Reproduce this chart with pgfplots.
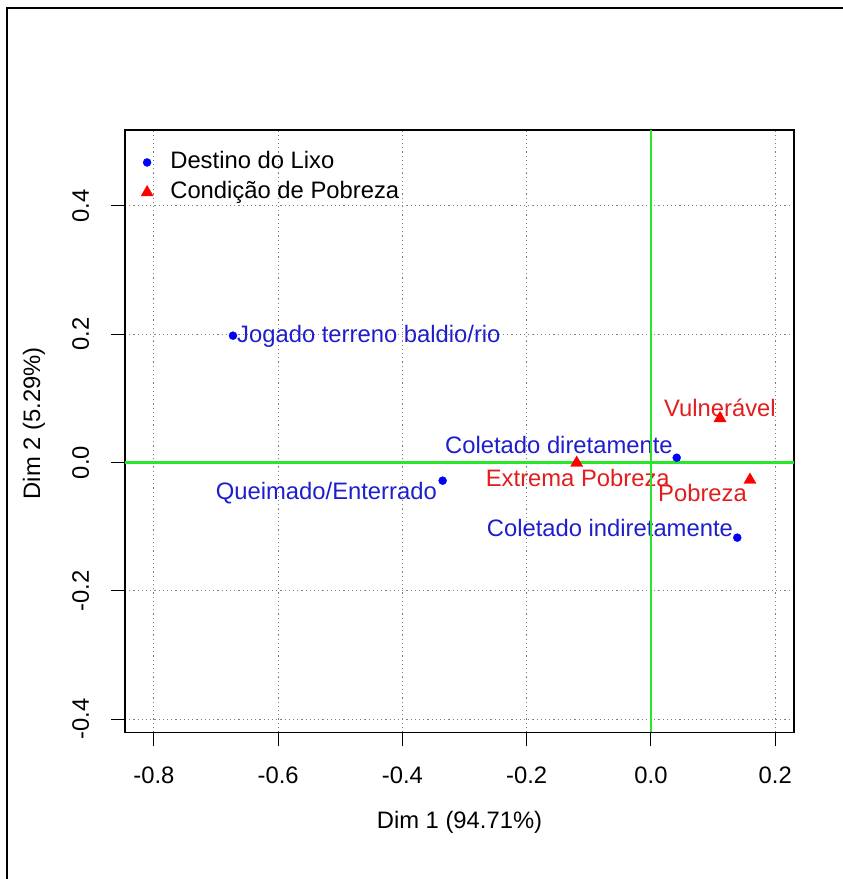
\documentclass[border=0pt]{standalone}
\usepackage{pgfplots}
\pgfplotsset{compat=1.18}
\usepackage{fontspec}
\setmainfont{Liberation Sans}
\definecolor{rblue}{RGB}{0,0,255}
\definecolor{tblue}{RGB}{30,30,205}
\definecolor{rred}{RGB}{255,0,0}
\definecolor{tred}{RGB}{225,30,30}
\definecolor{rgreen}{RGB}{40,230,40}
\begin{document}
\begin{tikzpicture}[font=\fontsize{23.8bp}{28bp}\selectfont]
\useasboundingbox (0,0) rectangle (843bp,879bp);
\draw[line width=2bp] (7bp,0) -- (7bp,871bp) -- (843bp,871bp);
\begin{axis}[
  at={(125bp,146.7bp)}, anchor=south west,
  scale only axis, width=669bp, height=602.3bp,
  xmin=-0.8466, xmax=0.2302, ymin=-0.4204, ymax=0.5184,
  xtick={-0.8,-0.6,-0.4,-0.2,0,0.2},
  xticklabels={-0.8,-0.6,-0.4,-0.2,0.0,0.2},
  ytick={-0.4,-0.2,0,0.2,0.4},
  yticklabels={-0.4,-0.2,0.0,0.2,0.4},
  xtick pos=left, ytick pos=left,
  tick align=outside, major tick length=14bp,
  tick style={black, line width=1bp},
  axis line style={black, line width=1.2bp},
  grid=major,
  major grid style={gray, line width=1bp, dash pattern=on 1.2bp off 3bp},
  xticklabel style={anchor=north, inner sep=0pt, text height=17bp, text depth=0pt},
  yticklabel style={rotate=90, anchor=south, inner sep=0pt, text height=17bp, text depth=0pt},
  xticklabel shift=20bp, yticklabel shift=22bp,
  xlabel={Dim 1 (94.71\%)}, ylabel={Dim 2 (5.29\%)},
  every axis x label/.style={at={(axis description cs:0.5,-0.150)}, anchor=center},
  every axis y label/.style={at={(axis description cs:-0.136,0.513)}, anchor=center, rotate=90},
  legend style={at={(axis description cs:0.024,0.971)}, anchor=north west,
    draw=none, fill=none, inner sep=0pt, outer sep=0pt, row sep=0pt,
    nodes={inner sep=4bp, text height=17bp, text depth=5bp},
    font=\fontsize{23.8bp}{28bp}\selectfont},
  legend cell align=left,
  legend image code/.code={\draw[mark repeat=2,mark phase=2,#1] plot coordinates {(0bp,0bp)(8bp,0bp)(16bp,0bp)}; \path (27bp,0bp);},
]
\addplot[only marks, mark=*, mark size=4bp, color=rblue] coordinates {
  (-0.6728,0.1978) (-0.3353,-0.0282) (0.0414,0.0076) (0.1389,-0.1170)};
\addlegendentry{Destino do Lixo}
\addplot[only marks, mark=triangle*, mark size=7bp, color=rred] coordinates {
  (0.1111,0.0690) (-0.1196,-0.0006) (0.1593,-0.0271)};
\addlegendentry{Condição de Pobreza}
\node[anchor=base west, inner sep=0pt, text=tblue] at (axis cs:-0.6663,0.1878) {Jogado terreno baldio/rio};
\node[anchor=base east, inner sep=0pt, text=tblue] at (axis cs:-0.3444,-0.0583) {Queimado/Enterrado};
\node[anchor=base west, inner sep=0pt, text=tblue] at (axis cs:-0.3316,0.0145) {Coletado diretamente};
\node[anchor=base west, inner sep=0pt, text=tblue] at (axis cs:-0.2645,-0.1155) {Coletado indiretamente};
\node[anchor=base west, inner sep=0pt, text=tred] at (axis cs:0.0209,0.0715) {Vulnerável};
\node[anchor=base west, inner sep=0pt, text=tred] at (axis cs:-0.2661,-0.0376) {Extrema Pobreza};
\node[anchor=base west, inner sep=0pt, text=tred] at (axis cs:0.0113,-0.0609) {Pobreza};
\draw[rgreen, line width=2.5bp] (axis cs:0,-0.4204) -- (axis cs:0,0.5184);
\draw[rgreen, line width=2.5bp] (axis cs:-0.8466,0) -- (axis cs:0.2302,0);
\end{axis}
\end{tikzpicture}
\end{document}
